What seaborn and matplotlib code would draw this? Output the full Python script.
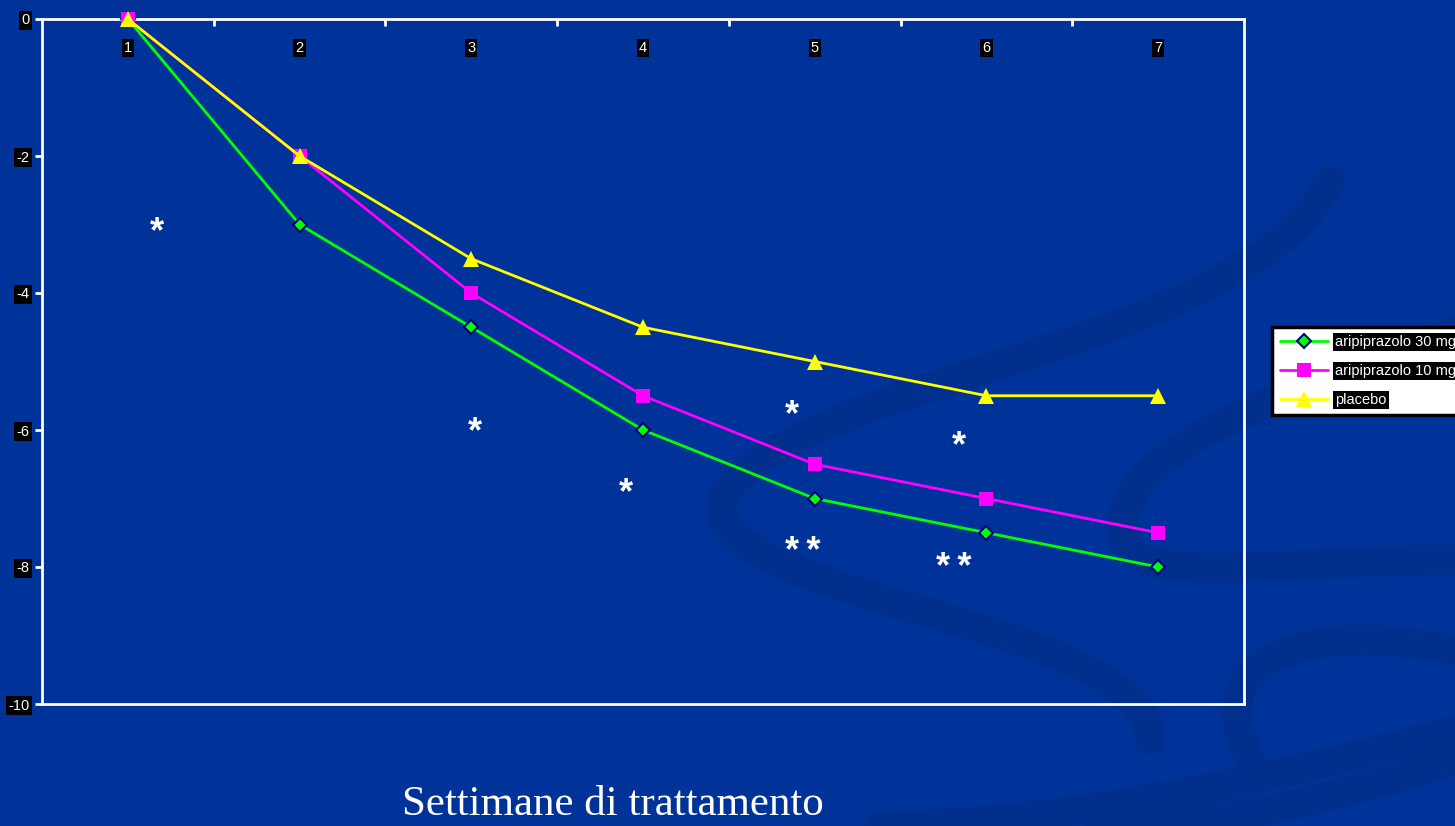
import numpy as np
import pandas as pd
import matplotlib
matplotlib.use("Agg")
import matplotlib.pyplot as plt
from matplotlib.path import Path
from matplotlib.patches import PathPatch
import seaborn as sns

# Weekly mean change from baseline
weeks = [1, 2, 3, 4, 5, 6, 7]
ari_30 = [0, -3, -4.5, -6, -7, -7.5, -8]
ari_10 = [0, -2, -4, -5.5, -6.5, -7, -7.5]
placebo = [0, -2, -3.5, -4.5, -5, -5.5, -5.5]
series_names = ["aripiprazolo 30 mg", "aripiprazolo 10 mg", "placebo"]

# Significance marks (x, y, text)
sig_x = [1.17, 3.02, 3.90, 4.87, 5.84, 4.93, 5.81]
sig_y = [-3.0, -5.92, -6.8, -5.67, -6.12, -7.66, -7.9]
sig_text = ["*", "*", "*", "*", "*", "*\u2009*", "*\u2009*"]

y_ticks = [0, -2, -4, -6, -8, -10]

BG = "#003399"
SWOOSH = "#002f8c"

sns.set_theme(style="white")
plt.rcParams["font.family"] = ["Liberation Sans", "DejaVu Sans"]

fig = plt.figure(figsize=(14.55, 8.26), dpi=100)
fig.patch.set_facecolor(BG)

# Decorative swooshes in the slide background
bg = fig.add_axes([0, 0, 1, 1], zorder=-5)
bg.set_xlim(0, 1455)
bg.set_ylim(826, 0)
bg.axis("off")
swooshes = [
    [(1455, 730), (1200, 800), (1000, 826), (880, 826)],
    [(1455, 760), (1250, 826), (1150, 826), (1100, 826)],
    [(1330, 180), (1250, 350), (780, 380), (722, 500)],
    [(722, 500), (700, 600), (1150, 620), (1150, 740)],
    [(1455, 560), (1250, 560), (1080, 600), (1130, 500)],
    [(1130, 500), (1160, 420), (1400, 360), (1455, 330)],
    [(1455, 650), (1300, 620), (1200, 660), (1250, 760)],
]
for pts in swooshes:
    path = Path(pts, [Path.MOVETO, Path.CURVE4, Path.CURVE4, Path.CURVE4])
    bg.add_patch(PathPatch(path, facecolor="none", edgecolor=SWOOSH, lw=22,
                           capstyle="round", alpha=0.8))

ax = fig.add_axes([42 / 1455, 1 - 704 / 826, (1244 - 42) / 1455, (704 - 19) / 826])
ax.set_facecolor("none")

df = pd.DataFrame({
    "week": weeks * 3,
    "value": ari_30 + ari_10 + placebo,
    "group": [series_names[0]] * 7 + [series_names[1]] * 7 + [series_names[2]] * 7,
})
palette = {series_names[0]: "#00ff00", series_names[1]: "#ff00ff", series_names[2]: "#ffff00"}
markers = {series_names[0]: "D", series_names[1]: "s", series_names[2]: "^"}
sizes = {series_names[0]: 7, series_names[1]: 10, series_names[2]: 11}
edges = {series_names[0]: "#000080", series_names[1]: "#ff00ff", series_names[2]: "#ffff00"}

for name in series_names:
    sub = df[df["group"] == name]
    sns.lineplot(data=sub, x="week", y="value", ax=ax, color=palette[name],
                 marker=markers[name], markersize=sizes[name],
                 markeredgecolor=edges[name], markeredgewidth=1.5 if name == series_names[0] else 0,
                 markerfacecolor=palette[name], linewidth=2, label=name, clip_on=False,
                 zorder=3)

# Asterisks: anchor is the visual centre of the glyph, baseline sits below it
for x, y, t in zip(sig_x, sig_y, sig_text):
    ax.annotate(t, (x, y), xytext=(0, -13), textcoords="offset points",
                color="white", fontsize=26, fontweight="bold", ha="center",
                va="baseline", family=["Liberation Sans", "DejaVu Sans"])

ax.set_xlim(0.5, 7.5)
ax.set_ylim(-10, 0)
ax.set_xlabel("")
ax.set_ylabel("")

for s in ax.spines.values():
    s.set_color("white")
    s.set_linewidth(2)

ax.set_xticks(weeks)
ax.set_xticklabels([str(w) for w in weeks])
ax.set_xticks(np.arange(1.5, 7.5, 1), minor=True)
ax.tick_params(axis="x", which="major", top=True, bottom=False, labeltop=True,
               labelbottom=False, length=0, pad=-26, labelsize=10.5, labelcolor="white")
ax.tick_params(axis="x", which="minor", top=True, bottom=False, direction="in",
               length=5, width=2, color="white")
ax.set_yticks(y_ticks)
ax.set_yticklabels([str(v) for v in y_ticks])
ax.tick_params(axis="y", which="major", left=True, direction="out", length=5, width=2,
               color="white", labelsize=10.5, labelcolor="white", pad=4)
for lab in ax.get_xticklabels() + ax.get_yticklabels():
    lab.set_bbox(dict(facecolor="black", edgecolor="none", pad=1.5))

leg = ax.legend(loc="upper left", bbox_to_anchor=(1272 / 1455, 1 - 327 / 826),
                bbox_transform=fig.transFigure, frameon=True, fontsize=10.5,
                handlelength=3.3, labelspacing=1.03, borderpad=0.55, handletextpad=0.5,
                borderaxespad=0, fancybox=False, framealpha=1)
leg.get_frame().set_facecolor("white")
leg.get_frame().set_edgecolor("black")
leg.get_frame().set_linewidth(2.5)
for t in leg.get_texts():
    t.set_color("white")
    t.set_bbox(dict(facecolor="black", edgecolor="none", pad=1.5))

fig.text(613 / 1455, 1 - 815 / 826, "Settimane di trattamento", color="white",
         fontsize=31, ha="center", va="baseline", family=["Liberation Serif", "DejaVu Serif"])

fig.savefig("out.png", dpi=100, facecolor=BG)
